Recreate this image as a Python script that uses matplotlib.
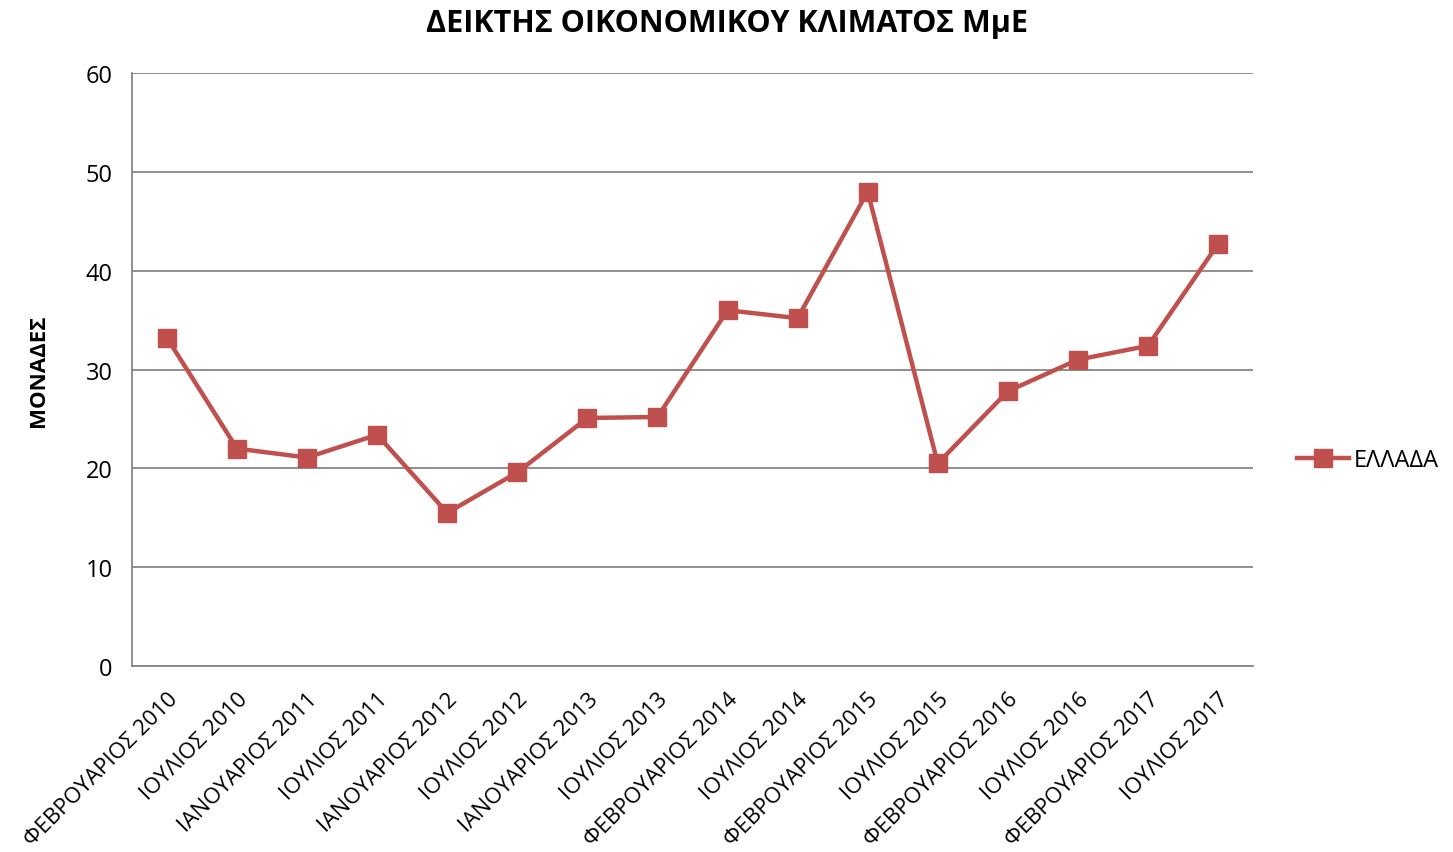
import matplotlib
matplotlib.use("Agg")
import matplotlib.pyplot as plt

# δεδομένα
periods = ["ΦΕΒΡΟΥΑΡΙΟΣ 2010", "ΙΟΥΛΙΟΣ 2010", "ΙΑΝΟΥΑΡΙΟΣ 2011", "ΙΟΥΛΙΟΣ 2011",
           "ΙΑΝΟΥΑΡΙΟΣ 2012", "ΙΟΥΛΙΟΣ 2012", "ΙΑΝΟΥΑΡΙΟΣ 2013", "ΙΟΥΛΙΟΣ 2013",
           "ΦΕΒΡΟΥΑΡΙΟΣ 2014", "ΙΟΥΛΙΟΣ 2014", "ΦΕΒΡΟΥΑΡΙΟΣ 2015", "ΙΟΥΛΙΟΣ 2015",
           "ΦΕΒΡΟΥΑΡΙΟΣ 2016", "ΙΟΥΛΙΟΣ 2016", "ΦΕΒΡΟΥΑΡΙΟΣ 2017", "ΙΟΥΛΙΟΣ 2017"]
greece = [33.2, 22.0, 21.1, 23.4, 15.5, 19.6, 25.1, 25.2,
          36.0, 35.2, 48.0, 20.5, 27.8, 31.0, 32.4, 42.7]
y_ticks = [0, 10, 20, 30, 40, 50, 60]

plt.rcParams['font.family'] = ['Open Sans', 'DejaVu Sans']

fig = plt.figure(figsize=(14.53, 8.53), dpi=100)
ax = fig.add_axes([0.0908, 0.218, 0.7716, 0.6952])

x = list(range(len(periods)))
ax.plot(x, greece, color='#C0504D', linewidth=3.2, marker='s', markersize=13,
        label='ΕΛΛΑΔΑ', zorder=3)

ax.set_xlim(-0.5, len(periods) - 0.5)
ax.set_ylim(0, 60)
ax.set_yticks(y_ticks)
ax.set_xticks(x)
ax.set_xticklabels(periods, rotation=45, ha='right', rotation_mode='anchor', fontsize=16)
ax.tick_params(axis='y', labelsize=17, length=0, pad=14)
ax.tick_params(axis='x', length=0, pad=16)

ax.grid(axis='y', color='#868686', linewidth=1.3)
ax.set_axisbelow(True)
for s in ['top', 'right']:
    ax.spines[s].set_visible(False)
for s in ['left', 'bottom']:
    ax.spines[s].set_color('#868686')
    ax.spines[s].set_linewidth(1.3)

ax.set_ylabel('ΜΟΝΑΔΕΣ', fontsize=16, fontweight='bold', labelpad=26)
fig.suptitle('ΔΕΙΚΤΗΣ ΟΙΚΟΝΟΜΙΚΟΥ ΚΛΙΜΑΤΟΣ ΜμΕ', fontsize=22, fontweight='bold',
             x=0.5, y=0.99)

ax.legend(loc='center left', bbox_to_anchor=(1.02, 0.347), frameon=False,
          fontsize=17, handlelength=2.2, handletextpad=0.2)

fig.savefig('out.png', dpi=100)
